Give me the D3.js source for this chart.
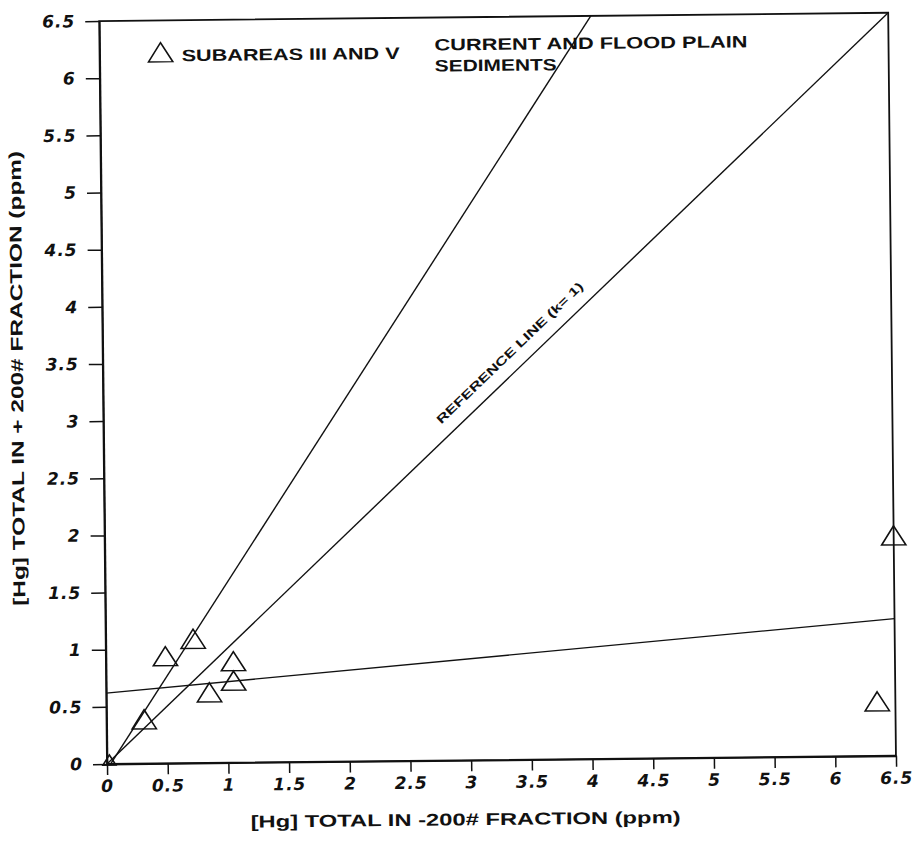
<!DOCTYPE html>
<html><head><meta charset="utf-8">
<script src="https://cdn.jsdelivr.net/npm/d3@7"></script>
<style>
body{margin:0;background:#fff;}
svg{display:block;}
text{font-family:"Liberation Sans",Arial,sans-serif;fill:#111;}
</style></head>
<body>
<svg id="c" width="917" height="846"></svg>
<script>
// ---- data ----
const xTicks = [0,0.5,1,1.5,2,2.5,3,3.5,4,4.5,5,5.5,6,6.5];
const yTicks = [0,0.5,1,1.5,2,2.5,3,3.5,4,4.5,5,5.5,6,6.5];
const pointsX = [0.02, 0.31, 0.49, 0.72, 0.85, 1.05, 1.05, 6.35, 6.5];
const pointsY = [0.02, 0.36, 0.91, 1.06, 0.59, 0.86, 0.69, 0.45, 1.9];
const pointSizes = [60, 210, 210, 210, 210, 210, 210, 210, 210];
const refLineX = [0, 6.5], refLineY = [0, 6.5];
const steepLineX = [0.03, 4.05], steepLineY = [0, 6.5];
const flatLineX = [0, 6.5], flatLineY = [0.62, 1.2];
const xTitle = "[Hg] TOTAL IN -200# FRACTION (ppm)";
const yTitle = "[Hg] TOTAL IN + 200# FRACTION (ppm)";
const legendText = "SUBAREAS III AND V";
const noteLines = ["CURRENT AND FLOOD PLAIN", "SEDIMENTS"];
const refLabel = "REFERENCE LINE (k= 1)";

const svg = d3.select("#c");
const L = 107, R = 896, T = 21, B = 764;
const x = d3.scaleLinear().domain([0,6.5]).range([L,R]);
const y = d3.scaleLinear().domain([0,6.5]).range([B,T]);

// whole scanned plot is slightly rotated
const g = svg.append("g").attr("transform",`rotate(-0.6,${L},${B})`);

// frame
g.append("rect").attr("x",L).attr("y",T).attr("width",R-L).attr("height",B-T)
  .attr("fill","none").attr("stroke","#111").attr("stroke-width",1.8);

// axes
const fmt = d => d===0 ? "0" : (Number.isInteger(d) ? d : d.toFixed(1));
const xa = g.append("g").attr("transform",`translate(0,${B})`)
  .call(d3.axisBottom(x).tickValues(xTicks).tickFormat(fmt).tickSize(11).tickSizeOuter(0).tickPadding(5));
const ya = g.append("g").attr("transform",`translate(${L},0)`)
  .call(d3.axisLeft(y).tickValues(yTicks).tickFormat(fmt).tickSize(14).tickSizeOuter(0).tickPadding(6));
[xa,ya].forEach(a=>{
  a.select(".domain").attr("stroke","#111").attr("stroke-width",1.8);
  a.selectAll(".tick line").attr("stroke","#111").attr("stroke-width",1.5);
  a.selectAll(".tick text").attr("font-size",17).attr("font-weight","bold")
    .attr("font-style","italic").attr("letter-spacing",1).attr("fill","#111")
    .style("font-family","'DejaVu Sans',sans-serif");
});
ya.selectAll(".tick text").attr("dx",-4);

// lines
const line = d3.line().x(d=>x(d[0])).y(d=>y(d[1]));
[[refLineX,refLineY],[steepLineX,steepLineY],[flatLineX,flatLineY]].forEach(([xs,ys])=>{
  g.append("path").datum(xs.map((v,i)=>[v,ys[i]])).attr("d",line)
    .attr("fill","none").attr("stroke","#111").attr("stroke-width",1.4);
});

// reference label
const angle = Math.atan2(y(1)-y(0), x(1)-x(0))*180/Math.PI;
const lx = x(3.45), ly = y(3.45);
g.append("text").attr("transform",`translate(${lx},${ly}) rotate(${angle})`)
  .attr("y",-13).attr("text-anchor","middle").attr("font-size",12).attr("font-weight","bold")
  .attr("textLength",198).attr("lengthAdjust","spacingAndGlyphs").text(refLabel);

// points
const tri = d3.symbol().type(d3.symbolTriangle);
g.append("g").selectAll("path").data(pointsX.map((v,i)=>({x:v,y:pointsY[i],s:pointSizes[i]})))
  .join("path").attr("d",d=>tri.size(d.s)()).attr("transform",d=>`translate(${x(d.x)},${y(d.y)}) scale(1.1,1)`)
  .attr("fill","none").attr("stroke","#111").attr("stroke-width",1.5);

// legend
g.append("path").attr("d",tri.size(210)()).attr("transform","translate(168,56) scale(1.1,1)")
  .attr("fill","none").attr("stroke","#111").attr("stroke-width",1.5);
g.append("text").attr("x",189).attr("y",62).attr("font-size",16.5).attr("font-weight","bold")
  .attr("textLength",218).attr("lengthAdjust","spacingAndGlyphs").text(legendText);
const noteW = [313, 122];
noteLines.forEach((t,i)=>g.append("text").attr("x",442).attr("y",54+i*21)
  .attr("font-size",16.5).attr("font-weight","bold")
  .attr("textLength",noteW[i]).attr("lengthAdjust","spacingAndGlyphs").text(t));

// titles
g.append("text").attr("x",250).attr("y",829)
  .attr("font-size",17).attr("font-weight","bold")
  .attr("textLength",430).attr("lengthAdjust","spacingAndGlyphs").text(xTitle);
g.append("text").attr("transform",`translate(27,605) rotate(-90)`)
  .attr("font-size",17).attr("font-weight","bold")
  .attr("textLength",455).attr("lengthAdjust","spacingAndGlyphs").text(yTitle);
</script>
</body></html>
